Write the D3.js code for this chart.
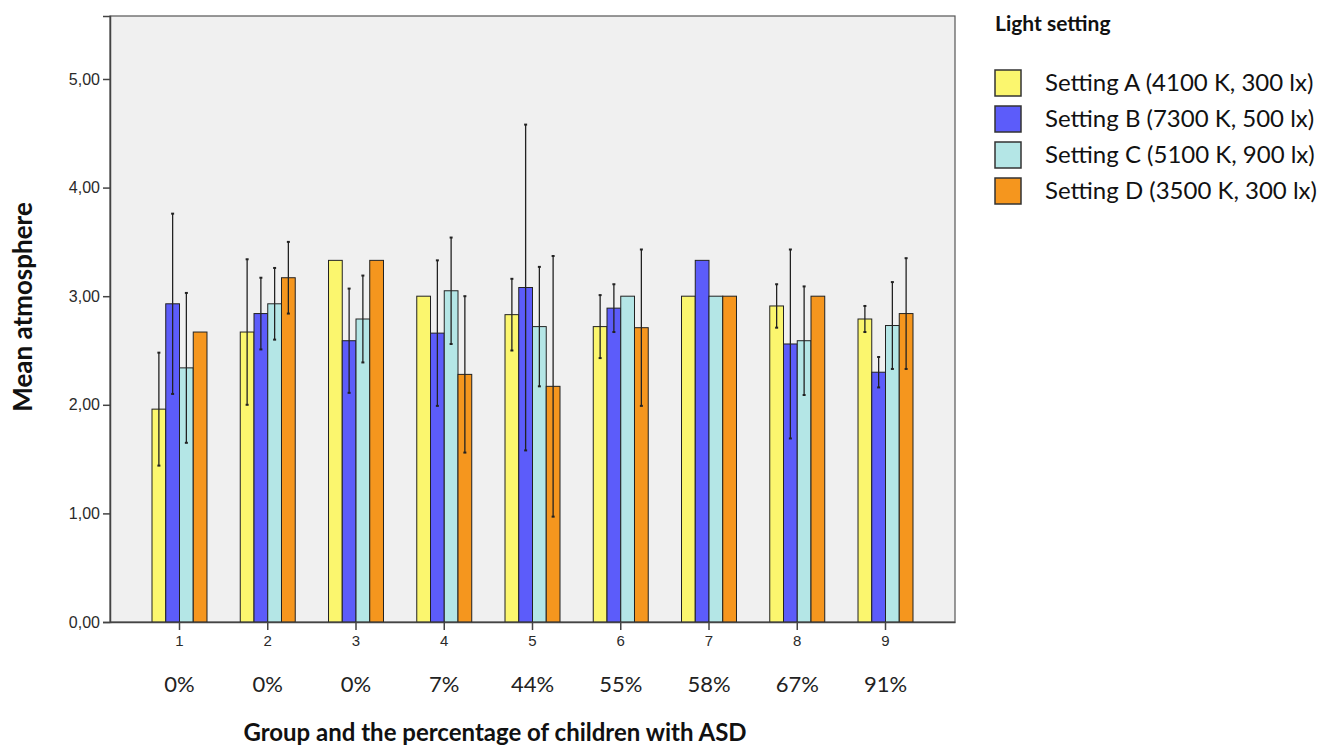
<!DOCTYPE html>
<html lang="en">
<head>
<meta charset="utf-8">
<title>Mean atmosphere by group</title>
<script src="https://d3js.org/d3.v7.min.js"></script>
<style>
  body { margin: 0; background: #fff; }
  .title { font-family: Lato, sans-serif; font-weight: 700; font-size: 24px; fill: #111; }
  .pct { font-family: Lato, sans-serif; font-size: 22px; fill: #222; }
  .leg { font-family: Lato, sans-serif; font-size: 24px; fill: #111; }
</style>
</head>
<body>
<svg width="1335" height="749"></svg>
<script>
// data
var groups = ["1", "2", "3", "4", "5", "6", "7", "8", "9"];
var percents = ["0%", "0%", "0%", "7%", "44%", "55%", "58%", "67%", "91%"];
var settings = ["Setting A (4100 K, 300 lx)", "Setting B (7300 K, 500 lx)",
                "Setting C (5100 K, 900 lx)", "Setting D (3500 K, 300 lx)"];
var colors = ["#fbf66e", "#5c5cfa", "#b4e6e6", "#f5961e"];
var meansA = [1.96, 2.67, 3.33, 3.00, 2.83, 2.72, 3.00, 2.91, 2.79];
var meansB = [2.93, 2.84, 2.59, 2.66, 3.08, 2.89, 3.33, 2.56, 2.30];
var meansC = [2.34, 2.93, 2.79, 3.05, 2.72, 3.00, 3.00, 2.59, 2.73];
var meansD = [2.67, 3.17, 3.33, 2.28, 2.17, 2.71, 3.00, 3.00, 2.84];
var errA = [0.52, 0.67, 0, 0, 0.33, 0.29, 0, 0.20, 0.12];
var errB = [0.83, 0.33, 0.48, 0.67, 1.50, 0.22, 0, 0.87, 0.14];
var errC = [0.69, 0.33, 0.40, 0.49, 0.55, 0, 0, 0.50, 0.40];
var errD = [0, 0.33, 0, 0.72, 1.20, 0.72, 0, 0, 0.51];
var yTicks = [0, 1, 2, 3, 4, 5];

var means = [meansA, meansB, meansC, meansD];
var errs = [errA, errB, errC, errD];

var svg = d3.select("svg");
var margin = {top: 16, left: 110, right: 380, bottom: 127};
var width = 1335 - margin.left - margin.right;
var height = 749 - margin.top - margin.bottom;
var g = svg.append("g").attr("transform", `translate(${margin.left}, ${margin.top})`);

var x = d3.scaleBand().domain(groups).range([0, width])
  .paddingInner(0.377).paddingOuter(0.476);
var xs = d3.scaleBand().domain(d3.range(4)).range([0, x.bandwidth()]);
var y = d3.scaleLinear().domain([0, 5.58]).range([height, 0]);

g.append("rect").attr("width", width).attr("height", height)
  .attr("fill", "#f0f0f0").attr("stroke", "#555").attr("stroke-width", 1.2);

var rows = [];
groups.forEach(function(grp, i) {
  settings.forEach(function(s, k) {
    rows.push({grp: grp, k: k, m: means[k][i], e: errs[k][i]});
  });
});

g.selectAll(".bar").data(rows).enter().append("rect")
  .attr("class", "bar")
  .attr("x", d => x(d.grp) + xs(d.k))
  .attr("y", d => y(d.m))
  .attr("width", xs.bandwidth())
  .attr("height", d => height - y(d.m))
  .attr("fill", d => colors[d.k])
  .attr("stroke", "#222").attr("stroke-width", 1);

var eb = g.selectAll(".err").data(rows.filter(d => d.e > 0)).enter().append("g")
  .attr("class", "err")
  .attr("transform", d => `translate(${x(d.grp) + xs(d.k) + xs.bandwidth() / 2}, 0)`);
eb.append("line").attr("y1", d => y(d.m + d.e)).attr("y2", d => y(d.m - d.e))
  .attr("stroke", "#222").attr("stroke-width", 1.3);
eb.append("line").attr("x1", -1.5).attr("x2", 1.5)
  .attr("y1", d => y(d.m + d.e)).attr("y2", d => y(d.m + d.e))
  .attr("stroke", "#222").attr("stroke-width", 2);
eb.append("line").attr("x1", -1.5).attr("x2", 1.5)
  .attr("y1", d => y(d.m - d.e)).attr("y2", d => y(d.m - d.e))
  .attr("stroke", "#222").attr("stroke-width", 2);

var yAxis = g.append("g")
  .call(d3.axisLeft(y).tickValues(yTicks).tickSize(7).tickPadding(3)
    .tickFormat(d => d3.format(".2f")(d).replace(".", ",")));
var xAxis = g.append("g").attr("transform", `translate(0, ${height})`)
  .call(d3.axisBottom(x).tickSize(8).tickPadding(5).tickSizeOuter(0));
[yAxis, xAxis].forEach(function(a) {
  a.selectAll("text")
    .style("font-family", "'Liberation Sans', Arial, sans-serif")
    .style("font-size", "16px")
    .style("fill", "#2a2a2a");
  a.selectAll("path").attr("stroke", "#444").attr("stroke-width", 1.5);
  a.selectAll("line").attr("stroke", "#444").attr("stroke-width", 1.5);
});
xAxis.selectAll("text").style("font-size", "15px");

g.selectAll(".pct").data(groups).enter().append("text")
  .attr("class", "pct")
  .attr("x", d => x(d) + x.bandwidth() / 2)
  .attr("y", height + 70)
  .attr("text-anchor", "middle")
  .text((d, i) => percents[i]);

svg.append("text").attr("class", "title")
  .attr("x", 495).attr("y", 741)
  .attr("text-anchor", "middle")
  .text("Group and the percentage of children with ASD");

svg.append("text").attr("class", "title")
  .attr("transform", "translate(32, 307) rotate(-90)")
  .attr("text-anchor", "middle")
  .style("font-size", "26px")
  .text("Mean atmosphere");

var leg = svg.append("g").attr("transform", "translate(995, 0)");
leg.append("text").attr("class", "title").attr("x", 0).attr("y", 31)
  .style("font-size", "21px").text("Light setting");
var li = leg.selectAll(".li").data(settings).enter().append("g")
  .attr("transform", (d, i) => `translate(0, ${70 + i * 36})`);
li.append("rect").attr("width", 26).attr("height", 26)
  .attr("fill", (d, i) => colors[i]).attr("stroke", "#333").attr("stroke-width", 1.5);
li.append("text").attr("class", "leg").attr("x", 50).attr("y", 21).text(d => d);
</script>
</body>
</html>
